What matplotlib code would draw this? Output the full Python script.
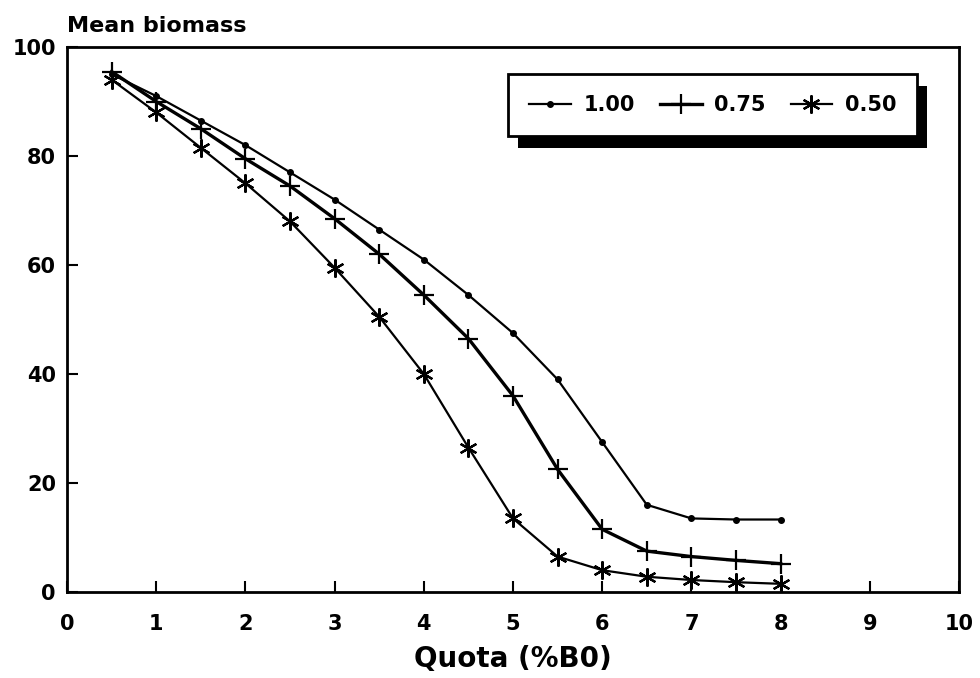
import numpy as np
import matplotlib
matplotlib.use('Agg')
import matplotlib.pyplot as plt
from matplotlib.patches import Rectangle

plt.rcParams['font.family'] = ['DejaVu Sans']
plt.rcParams['font.weight'] = 'bold'

quota = [0.5, 1, 1.5, 2, 2.5, 3, 3.5, 4, 4.5, 5, 5.5, 6, 6.5, 7, 7.5, 8]
biomass_100 = [95, 91, 86.5, 82, 77, 72, 66.5, 61, 54.5, 47.5, 39, 27.5, 16, 13.5, 13.3, 13.3]
biomass_075 = [95.5, 90, 85, 79.5, 74.5, 68.5, 62, 54.5, 46.5, 36, 22.5, 11.5, 7.5, 6.5, 5.8, 5.2]
biomass_050 = [94, 88, 81.5, 75, 68, 59.5, 50.5, 40, 26.5, 13.5, 6.5, 4, 2.8, 2.2, 1.8, 1.5]
labels = ['1.00', '0.75', '0.50']

W, H = 980, 678
left, right, top, bottom = 67, 959, 47, 592
fig = plt.figure(figsize=(W / 100, H / 100), dpi=100)
ax = fig.add_axes([left / W, 1 - bottom / H, (right - left) / W, (bottom - top) / H])

h1, = ax.plot(quota, biomass_100, color='black', lw=1.6, marker='o', markersize=4, label=labels[0])
h2, = ax.plot(quota, biomass_075, color='black', lw=2.4, marker='+', markersize=14,
              markeredgewidth=1.6, label=labels[1])
h3, = ax.plot(quota, biomass_050, color='black', lw=1.6, marker=(6, 2, 0), markersize=13,
              markeredgewidth=1.6, label=labels[2])

ax.set_xlim(0, 10)
ax.set_ylim(0, 100)
ax.set_xticks(range(0, 11))
ax.set_yticks(range(0, 101, 20))
ax.tick_params(direction='in', length=8, width=1.5, labelsize=15)
ax.tick_params(axis='x', pad=16)
ax.tick_params(axis='y', pad=8)
for s in ax.spines.values():
    s.set_linewidth(2)
for lab in ax.get_xticklabels() + ax.get_yticklabels():
    lab.set_fontweight('bold')

ax.set_xlabel('Quota (%B0)', fontsize=20, fontweight='bold', labelpad=8)
fig.text(left / W, 1 - 32 / H, 'Mean biomass', fontsize=16, fontweight='bold',
         ha='left', va='baseline')

# legend box with a solid drop shadow
leg_x = (917 - left) / (right - left)
leg_y = (bottom - 74) / (bottom - top)
leg = ax.legend(handles=[h1, h2, h3], loc='upper right', bbox_to_anchor=(leg_x, leg_y),
                borderaxespad=0, ncol=3, frameon=True, fancybox=False, fontsize=15,
                handlelength=2.0, columnspacing=1.2, borderpad=1.0, handletextpad=0.6)
frame = leg.get_frame()
frame.set_edgecolor('black')
frame.set_facecolor('white')
frame.set_alpha(1)
frame.set_linewidth(2)
leg.set_zorder(5)
for t in leg.get_texts():
    t.set_fontweight('bold')

fig.canvas.draw()
bb = leg.get_window_extent().transformed(ax.transAxes.inverted())
dx = 10 / (right - left)
dy = 12 / (bottom - top)
shadow = Rectangle((bb.x0 + dx, bb.y0 - dy), bb.width, bb.height,
                   transform=ax.transAxes, facecolor='black', edgecolor='none', zorder=4)
ax.add_patch(shadow)

fig.savefig('out.png', dpi=100)
